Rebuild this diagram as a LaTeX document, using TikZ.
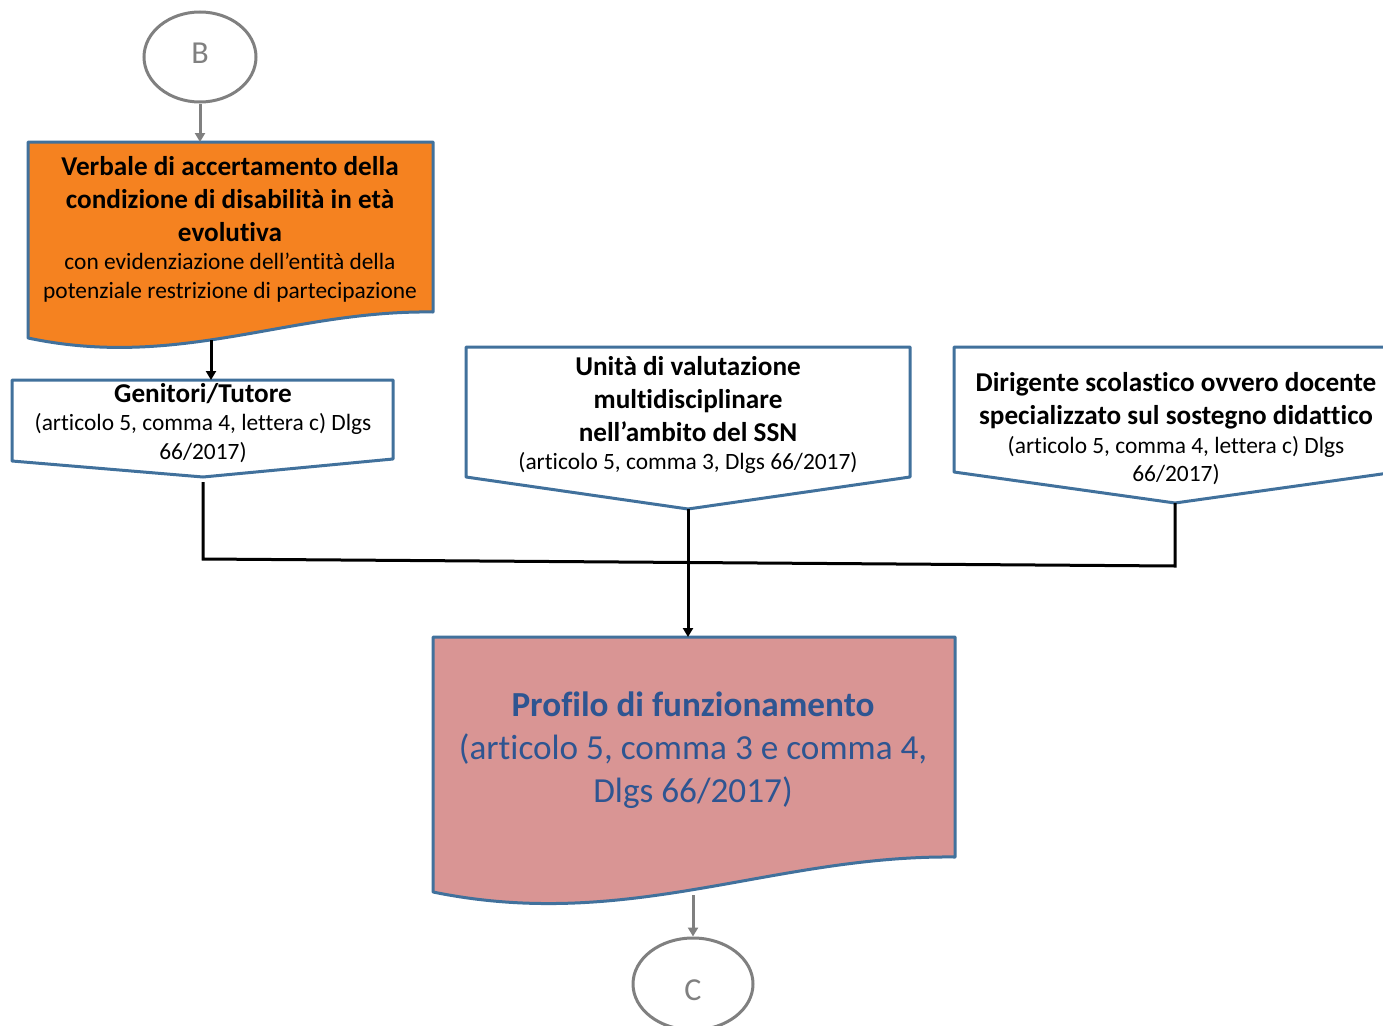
\documentclass[tikz,border=0pt]{standalone}
\usepackage{fontspec}
\setmainfont{Carlito}[Ligatures={NoCommon}]
\usetikzlibrary{arrows.meta,shapes.geometric}
\definecolor{boxblue}{HTML}{41719C}
\definecolor{boxorange}{HTML}{F58220}
\definecolor{boxpink}{HTML}{D99594}
\definecolor{txtblue}{HTML}{2E5591}
\definecolor{conngray}{HTML}{808080}
\tikzset{
  shapebox/.style={draw=boxblue, line width=3pt, line join=round},
  connector/.style={draw=conngray, line width=3pt, ellipse, fill=white, text=conngray, font=\fontsize{32}{34}\selectfont, inner sep=0pt},
  grayarrow/.style={draw=conngray, line width=3pt, -{Triangle[length=9pt,width=10pt]}},
  blackline/.style={draw=black, line width=3pt},
  blackarrow/.style={draw=black, line width=3pt, -{Triangle[length=9pt,width=10pt]}},
  boxtext/.style={inner sep=0pt, execute at begin node={\centering\spaceskip=0pt\xspaceskip=0pt}},
}
\newcommand{\bigb}{\fontsize{27.2}{33}\selectfont\bfseries}
\newcommand{\smallr}{\fontsize{23.4}{28.5}\selectfont}
\begin{document}
\begin{tikzpicture}[x=1pt,y=-1pt]
\useasboundingbox (0,0) rectangle (1383,1025);
\fill[white] (0,0) rectangle (1383,1025);
\clip (0,0) rectangle (1383,1025);

% connector circles
\node[connector, minimum width=112pt, minimum height=90pt] (B) at (200,57) {\raisebox{-6pt}[0pt][0pt]{B}};
\node[connector, minimum width=120pt, minimum height=92pt] (C) at (693,984) {\raisebox{-16pt}[0pt][0pt]{C}};

% orange document
\path[shapebox, fill=boxorange] (28,142) -- (433,142) -- (433,312) .. controls (290,310) and (180,370) .. (28,338) -- cycle;
\coordinate (Vtop) at (200,142);
\coordinate (Vbot) at (211,340);
\node[boxtext, text width=420pt] (Vtxt) at (230,229) {{\bigb Verbale di accertamento della\\ condizione di disabilità in età\\ evolutiva\par}{\smallr con evidenziazione dell’entità della\\ potenziale restrizione di partecipazione\par}};

% Genitori
\path[shapebox, fill=white] (12,380) -- (393,380) -- (393,459) -- (203,477) -- (12,461) -- cycle;
\coordinate (Gtop) at (211,380);
\coordinate (Gbot) at (203,482);
\node[boxtext, text width=390pt] (Gtxt) at (203,423) {{\bigb Genitori/Tutore\par}{\smallr (articolo 5, comma 4, lettera c) Dlgs\\ 66/2017)\par}};

% Unità
\path[shapebox, fill=white] (466,347) -- (910,347) -- (910,477) -- (688,509) -- (466,477) -- cycle;
\coordinate (Ubot) at (688,509);
\node[boxtext, text width=440pt] (Utxt) at (688,415) {{\bigb Unità di valutazione\\ multidisciplinare\\ nell’ambito del SSN\par}{\smallr (articolo 5, comma 3, Dlgs 66/2017)\par}};

% Dirigente
\path[shapebox, fill=white] (954,347) -- (1396,347) -- (1396,472) -- (1175,503) -- (954,472) -- cycle;
\coordinate (Dbot) at (1175,503);
\node[boxtext, text width=440pt] (Dtxt) at (1176,429) {{\bigb Dirigente scolastico ovvero docente\\ specializzato sul sostegno didattico\par}{\smallr (articolo 5, comma 4, lettera c) Dlgs\\ 66/2017)\par}};

% Profilo
\path[shapebox, fill=boxpink] (433,637) -- (955,637) -- (955,857) .. controls (771,855) and (629,932) .. (433,892) -- cycle;
\coordinate (Ptop) at (688,637);
\coordinate (Pbot) at (693,895);
\node[boxtext, text width=520pt, text=txtblue, font=\fontsize{35.2}{43}\selectfont] (Ptxt) at (693,750) {{\bfseries Profilo di funzionamento}\\ (articolo 5, comma 3 e comma 4,\\ Dlgs 66/2017)};

% connectors
\coordinate (J1) at (203,559);
\coordinate (J2) at (1175,566);
\draw[grayarrow] (B) -- (Vtop);
\draw[blackarrow] (Vbot) -- (Gtop);
\draw[blackline, line join=miter] (Gbot) -- (J1) -- (J2) -- (Dbot);
\draw[blackarrow] (Ubot) -- (Ptop);
\draw[grayarrow] (Pbot) -- (C);
\end{tikzpicture}
\end{document}
